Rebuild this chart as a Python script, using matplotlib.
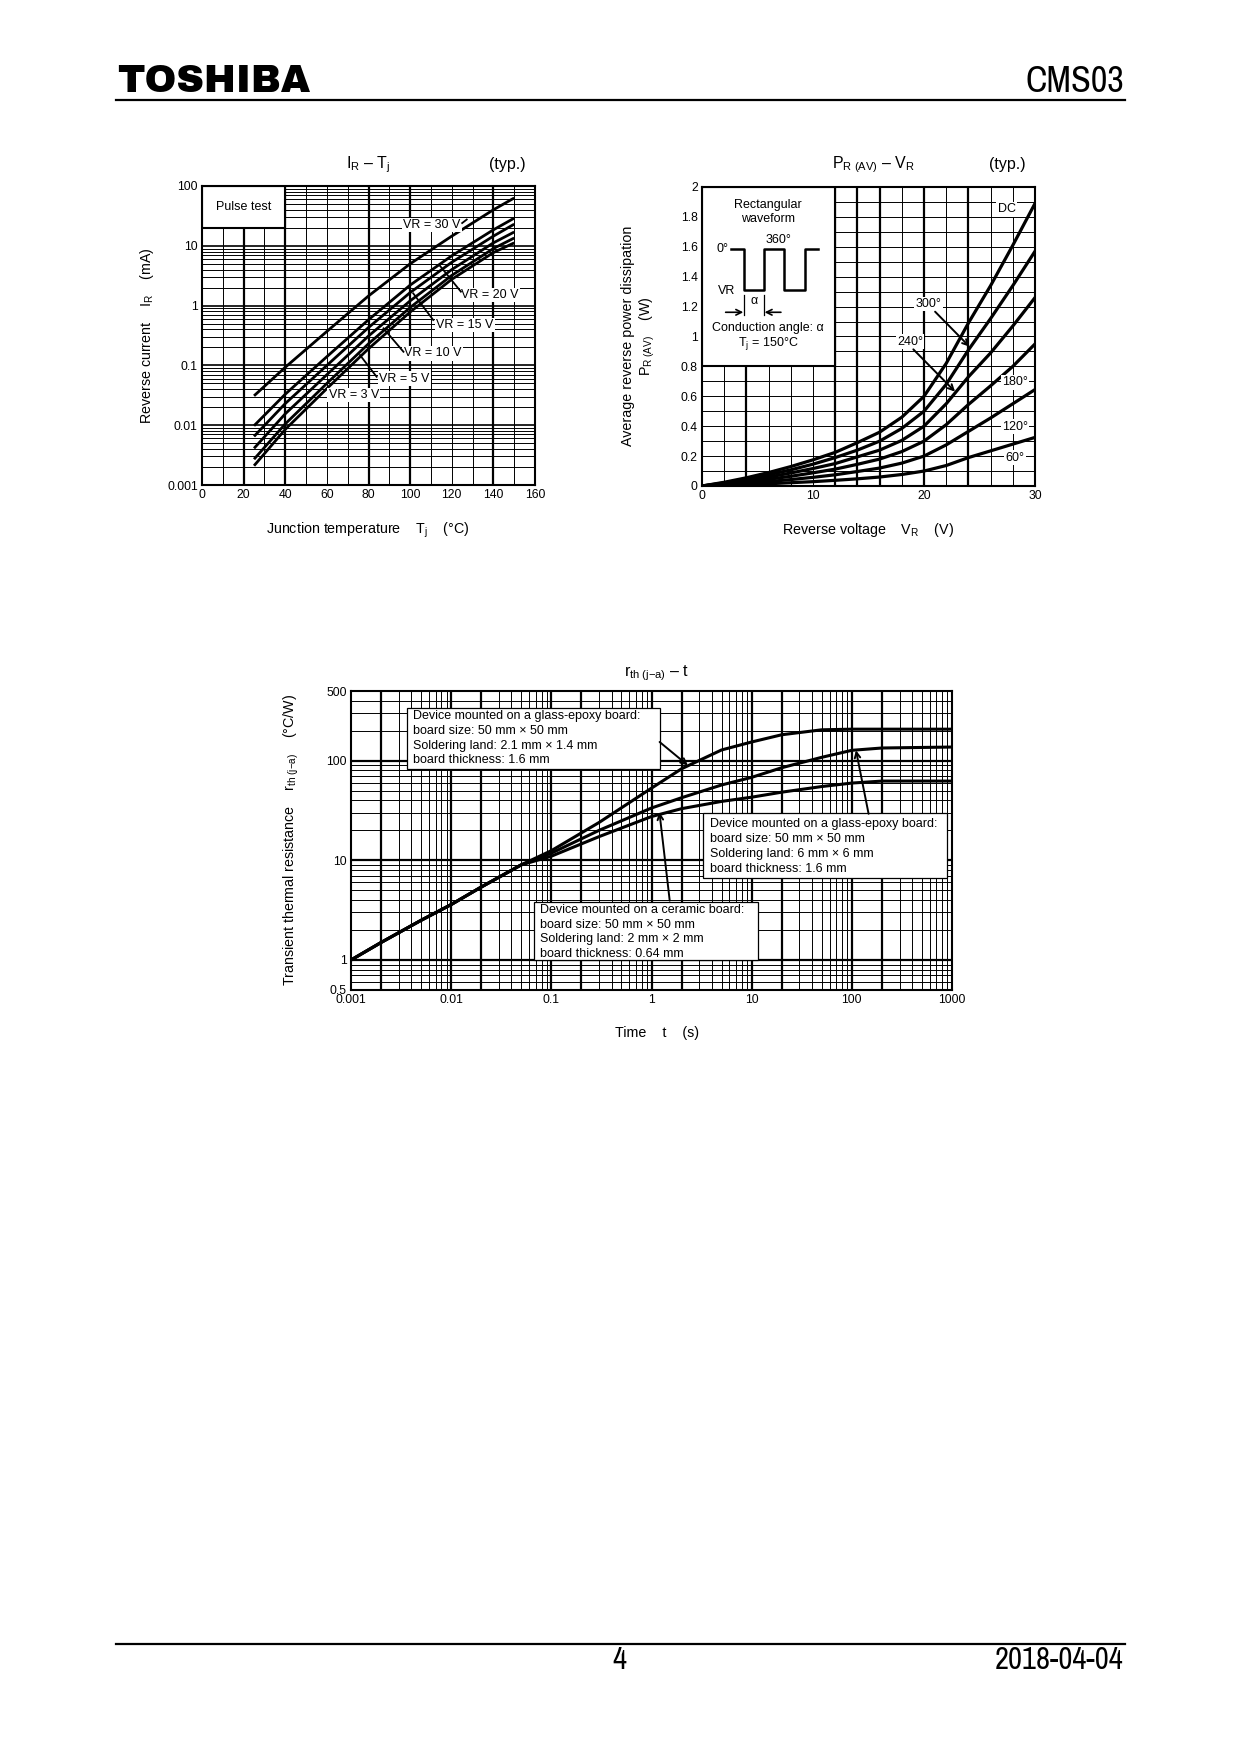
import matplotlib
matplotlib.use('Agg')
import matplotlib.pyplot as plt
from matplotlib.patches import Rectangle
from matplotlib.lines import Line2D
import numpy as np

# ---------------- data ----------------
# IR - Tj (typ.), reverse current in mA
tj = [25, 40, 60, 80, 100, 120, 140, 150]
ir_30v = [0.031, 0.093, 0.37, 1.45, 5.0, 14.5, 40, 63]
ir_20v = [0.0098, 0.033, 0.14, 0.58, 2.2, 6.8, 18.5, 29]
ir_15v = [0.0065, 0.023, 0.10, 0.43, 1.65, 5.3, 14.5, 23]
ir_10v = [0.0041, 0.0155, 0.07, 0.31, 1.2, 4.0, 11.2, 17]
ir_5v = [0.0027, 0.0105, 0.05, 0.23, 0.93, 3.2, 9.0, 13.5]
ir_3v = [0.0021, 0.0085, 0.041, 0.19, 0.78, 2.75, 7.7, 11.2]

# PR(AV) - VR (typ.), W
vr = [0, 2, 4, 6, 8, 10, 12, 14, 16, 18, 20, 22, 24, 26, 28, 30]
p_dc = [0, 0.025, 0.055, 0.09, 0.13, 0.175, 0.225, 0.29, 0.36, 0.46, 0.60, 0.82, 1.09, 1.34, 1.61, 1.89]
p_300 = [0, 0.021, 0.046, 0.075, 0.108, 0.146, 0.19, 0.24, 0.30, 0.385, 0.50, 0.68, 0.91, 1.12, 1.34, 1.57]
p_240 = [0, 0.017, 0.037, 0.06, 0.087, 0.117, 0.15, 0.195, 0.24, 0.305, 0.40, 0.55, 0.73, 0.89, 1.07, 1.26]
p_180 = [0, 0.013, 0.028, 0.045, 0.065, 0.088, 0.113, 0.145, 0.18, 0.23, 0.30, 0.41, 0.545, 0.67, 0.80, 0.95]
p_120 = [0, 0.008, 0.018, 0.03, 0.043, 0.058, 0.075, 0.097, 0.12, 0.153, 0.20, 0.275, 0.365, 0.455, 0.55, 0.645]
p_60 = [0, 0.004, 0.009, 0.015, 0.022, 0.029, 0.038, 0.048, 0.06, 0.077, 0.10, 0.137, 0.19, 0.235, 0.28, 0.325]

# rth(j-a) - t, degC/W
t_s = [0.001, 0.002, 0.005, 0.01, 0.02, 0.05, 0.1, 0.3, 1, 2, 5, 10, 20, 50, 100, 200, 1000]
rth_ge_small = [1.0, 1.5, 2.5, 3.6, 5.4, 9.0, 12.5, 24, 53, 83, 128, 154, 182, 204, 207, 207, 207]
rth_ge_large = [1.0, 1.5, 2.5, 3.6, 5.4, 9.0, 11.8, 20, 33.5, 42.5, 57, 68, 85, 108, 127, 134, 137]
rth_ceramic = [1.0, 1.5, 2.5, 3.6, 5.4, 9.0, 11.0, 17.3, 27.5, 33, 39, 43, 48.3, 55, 59.6, 62.4, 62.4]

# ---------------- page setup ----------------
W, H = 1240, 1754
plt.rcParams['font.family'] = ['Liberation Sans', 'DejaVu Sans']
plt.rcParams['mathtext.fontset'] = 'custom'
plt.rcParams['mathtext.rm'] = 'Liberation Sans'
plt.rcParams['mathtext.it'] = 'Liberation Sans:italic'
plt.rcParams['mathtext.bf'] = 'Liberation Sans:bold'
plt.rcParams['axes.unicode_minus'] = False

fig = plt.figure(figsize=(W / 100, H / 100), dpi=100)

def fx(x):
    return x / W

def fy(y):
    return 1 - y / H

def add_ax(l, t, r, b):
    return fig.add_axes([l / W, 1 - b / H, (r - l) / W, (b - t) / H])

def hline_px(x0, x1, y, lw):
    fig.add_artist(Line2D([fx(x0), fx(x1)], [fy(y), fy(y)], lw=lw, color='k'))

NARROW = ['Liberation Sans Narrow', 'Archivo Narrow', 'Liberation Sans']
LOGO = ['Archivo Black', 'DejaVu Sans']
TICK = 8.7
LAB = 10.3
BOX = 9

# header / footer
fig.text(fx(117), fy(92), 'TOSHIBA', family=LOGO, weight='bold', fontsize=27.5, va='baseline')
fig.text(fx(1124), fy(92), 'CMS03', family=NARROW, fontsize=26, ha='right', va='baseline')
hline_px(116, 1125, 100, 1.6)
hline_px(116, 1125, 1644, 1.6)
fig.text(fx(619), fy(1669), '4', family=NARROW, fontsize=22, ha='center', va='baseline')
fig.text(fx(1124), fy(1669), '2018-04-04', family=NARROW, fontsize=22, ha='right', va='baseline')

def style_axes(ax):
    for s in ax.spines.values():
        s.set_linewidth(1.5)
        s.set_zorder(6)
    ax.tick_params(length=0, pad=3, labelsize=TICK)

THIN = 0.7
THICK = 1.6

# ================= IR - Tj =================
ax1 = add_ax(202, 186, 535, 485)
ax1.set_yscale('log')
ax1.set_xlim(0, 160)
ax1.set_ylim(1e-3, 1e2)
for x in range(10, 160, 10):
    ax1.axvline(x, color='k', lw=THICK if x in (20, 40, 80, 100, 140) else THIN, zorder=1)
for d in range(-3, 2):
    for k in range(1, 10):
        y = k * 10.0 ** d
        if y <= 1e-3:
            continue
        ax1.axhline(y, color='k', lw=1.2 if k == 1 else THIN, zorder=1)
ax1.axhline(100, color='k', lw=1.2, zorder=1)
ax1.set_xticks(range(0, 161, 20))
ax1.set_xticklabels([str(v) for v in range(0, 161, 20)])
ax1.set_yticks([1e-3, 1e-2, 1e-1, 1, 10, 100])
ax1.set_yticklabels(['0.001', '0.01', '0.1', '1', '10', '100'])
ax1.yaxis.set_minor_locator(matplotlib.ticker.NullLocator())
style_axes(ax1)

ax1.add_patch(Rectangle((0, 20), 40, 80, facecolor='white', edgecolor='k', lw=1.5, zorder=3))
ax1.text(20, 45, 'Pulse test', ha='center', va='center', fontsize=BOX, zorder=5)

for series in (ir_30v, ir_20v, ir_15v, ir_10v, ir_5v, ir_3v):
    ax1.plot(tj, series, color='k', lw=2.0, zorder=4, solid_capstyle='butt')

lab_bg = dict(facecolor='white', edgecolor='none', pad=1.0)
ax1.text(110.4, 22.3, 'VR = 30 V', ha='center', va='center', fontsize=BOX, bbox=lab_bg, zorder=5)
ax1.text(138.4, 1.50, 'VR = 20 V', ha='center', va='center', fontsize=BOX, bbox=lab_bg, zorder=5)
ax1.text(126.4, 0.474, 'VR = 15 V', ha='center', va='center', fontsize=BOX, bbox=lab_bg, zorder=5)
ax1.text(110.7, 0.159, 'VR = 10 V', ha='center', va='center', fontsize=BOX, bbox=lab_bg, zorder=5)
ax1.text(97.1, 0.060, 'VR = 5 V', ha='center', va='center', fontsize=BOX, bbox=lab_bg, zorder=5)
ax1.text(72.9, 0.032, 'VR = 3 V', ha='center', va='center', fontsize=BOX, bbox=lab_bg, zorder=5)
for tail, tip in [((124.4, 1.71), (114.4, 4.6)), ((111.1, 0.574), (101.5, 1.6)),
                  ((96.8, 0.169), (87.2, 0.417)), ((83.9, 0.0646), (75.9, 0.149)),
                  ((125.0, 24.0), (127.2, 27.5))]:
    ax1.plot([tail[0], tip[0]], [tail[1], tip[1]], color='k', lw=1.3, zorder=5)

fig.text(fx(368), fy(165), r'I$_\mathregular{R}$ – T$_\mathregular{j}$', fontsize=11.5, ha='center', va='center')
fig.text(fx(507), fy(165), '(typ.)', fontsize=11.5, ha='center', va='center')
fig.text(fx(147), fy(336), r'Reverse current    I$_\mathregular{R}$    (mA)', fontsize=LAB,
         rotation=90, ha='center', va='center')
fig.text(fx(368), fy(530), r'Junction temperature    T$_\mathregular{j}$    (°C)', fontsize=LAB,
         ha='center', va='center')

# ================= PR(AV) - VR =================
ax2 = add_ax(702, 187, 1035, 486)
ax2.set_xlim(0, 30)
ax2.set_ylim(0, 2)
for x in range(2, 30, 2):
    ax2.axvline(x, color='k', lw=THICK if x in (4, 12, 14, 16, 20, 24) else THIN, zorder=1)
for y in np.arange(0.1, 2.0, 0.1):
    ax2.axhline(y, color='k', lw=THIN, zorder=1)
ax2.set_xticks([0, 10, 20, 30])
ax2.set_xticklabels(['0', '10', '20', '30'])
yt = [0, 0.2, 0.4, 0.6, 0.8, 1.0, 1.2, 1.4, 1.6, 1.8, 2.0]
ax2.set_yticks(yt)
ax2.set_yticklabels(['0', '0.2', '0.4', '0.6', '0.8', '1', '1.2', '1.4', '1.6', '1.8', '2'])
style_axes(ax2)

for series in (p_dc, p_300, p_240, p_180, p_120, p_60):
    ax2.plot(vr, series, color='k', lw=2.3, zorder=4)

# inset with the waveform sketch
T2 = ax2.transAxes
ax2.add_patch(Rectangle((0, 0.4), 0.4, 0.6, transform=T2, facecolor='white', edgecolor='k', lw=1.5, zorder=3))
ax2.text(0.199, 0.917, 'Rectangular\nwaveform', transform=T2, ha='center', va='center',
         fontsize=BOX, linespacing=1.2, zorder=5)
wx = [0.087, 0.126, 0.126, 0.186, 0.186, 0.247, 0.247, 0.309, 0.309, 0.349]
wy = [0.7915, 0.7915, 0.6555, 0.6555, 0.7915, 0.7915, 0.6555, 0.6555, 0.7915, 0.7915]
ax2.plot(wx, wy, transform=T2, color='k', lw=1.8, zorder=5)
ax2.text(0.081, 0.7915, '0°', transform=T2, ha='right', va='center', fontsize=BOX, zorder=5)
ax2.text(0.229, 0.822, '360°', transform=T2, ha='center', va='center', fontsize=BOX, zorder=5)
ax2.text(0.074, 0.652, 'VR', transform=T2, ha='center', va='center', fontsize=BOX, zorder=5)
for xx in (0.126, 0.186):
    ax2.plot([xx, xx], [0.639, 0.572], transform=T2, color='k', lw=0.9, zorder=5)
ax2.text(0.156, 0.618, 'α', transform=T2, ha='center', va='center', fontsize=BOX, zorder=5)
ax2.annotate('', xy=(0.124, 0.581), xytext=(0.071, 0.581), xycoords=T2, textcoords=T2,
             arrowprops=dict(arrowstyle='->', lw=1.2, color='k', shrinkA=0, shrinkB=0), zorder=5)
ax2.annotate('', xy=(0.188, 0.581), xytext=(0.237, 0.581), xycoords=T2, textcoords=T2,
             arrowprops=dict(arrowstyle='->', lw=1.2, color='k', shrinkA=0, shrinkB=0), zorder=5)
ax2.text(0.199, 0.5275, 'Conduction angle: α', transform=T2, ha='center', va='center', fontsize=BOX, zorder=5)
ax2.text(0.199, 0.475, r'T$_\mathregular{j}$ = 150°C', transform=T2, ha='center', va='center',
         fontsize=BOX, zorder=5)

ax2.text(27.45, 1.851, 'DC', ha='center', va='center', fontsize=BOX, bbox=lab_bg, zorder=5)
ax2.text(20.4, 1.217, '300°', ha='center', va='center', fontsize=BOX, bbox=lab_bg, zorder=5)
ax2.text(18.74, 0.965, '240°', ha='center', va='center', fontsize=BOX, bbox=lab_bg, zorder=5)
ax2.text(28.2, 0.694, '180°', ha='center', va='center', fontsize=BOX, bbox=lab_bg, zorder=5)
ax2.text(28.2, 0.397, '120°', ha='center', va='center', fontsize=BOX, bbox=lab_bg, zorder=5)
ax2.text(28.2, 0.189, '60°', ha='center', va='center', fontsize=BOX, bbox=lab_bg, zorder=5)
ax2.annotate('', xy=(24.1, 0.932), xytext=(21.0, 1.166),
             arrowprops=dict(arrowstyle='->', lw=1.4, color='k', shrinkA=0, shrinkB=0), zorder=5)
ax2.annotate('', xy=(22.8, 0.631), xytext=(19.04, 0.914),
             arrowprops=dict(arrowstyle='->', lw=1.4, color='k', shrinkA=0, shrinkB=0), zorder=5)

fig.text(fx(873), fy(165), r'P$_\mathregular{R\ (AV)}$ – V$_\mathregular{R}$', fontsize=11.5, ha='center', va='center')
fig.text(fx(1007), fy(165), '(typ.)', fontsize=11.5, ha='center', va='center')
fig.text(fx(628), fy(336), 'Average reverse power dissipation', fontsize=LAB, rotation=90, ha='center', va='center')
fig.text(fx(647), fy(336), r'P$_\mathregular{R\ (AV)}$    (W)', fontsize=LAB, rotation=90, ha='center', va='center')
fig.text(fx(868), fy(530), r'Reverse voltage    V$_\mathregular{R}$    (V)', fontsize=LAB, ha='center', va='center')

# ================= rth(j-a) - t =================
ax3 = add_ax(351, 691, 952, 990)
ax3.set_xscale('log')
ax3.set_yscale('log')
ax3.set_xlim(1e-3, 1e3)
ax3.set_ylim(0.5, 500)
for d in range(-3, 3):
    for k in range(1, 10):
        x = k * 10.0 ** d
        if x <= 1e-3:
            continue
        ax3.axvline(x, color='k', lw=THICK if k in (1, 2) else THIN, zorder=1)
for d in range(-1, 3):
    for k in range(1, 10):
        y = k * 10.0 ** d
        if y <= 0.5 or y >= 500:
            continue
        ax3.axhline(y, color='k', lw=THICK if k == 1 else THIN, zorder=1)
ax3.set_xticks([1e-3, 1e-2, 1e-1, 1, 10, 100, 1000])
ax3.set_xticklabels(['0.001', '0.01', '0.1', '1', '10', '100', '1000'])
ax3.set_yticks([0.5, 1, 10, 100, 500])
ax3.set_yticklabels(['0.5', '1', '10', '100', '500'])
ax3.xaxis.set_minor_locator(matplotlib.ticker.NullLocator())
ax3.yaxis.set_minor_locator(matplotlib.ticker.NullLocator())
style_axes(ax3)

for series in (rth_ge_small, rth_ge_large, rth_ceramic):
    ax3.plot(t_s, series, color='k', lw=2.2, zorder=4)

T3 = ax3.transAxes
boxes = [
    ((0.094, 0.738, 0.514, 0.942), (0.1037, 0.842),
     'Device mounted on a glass-epoxy board:\nboard size: 50 mm × 50 mm\n'
     'Soldering land: 2.1 mm × 1.4 mm\nboard thickness: 1.6 mm'),
    ((0.585, 0.374, 0.991, 0.591), (0.597, 0.480),
     'Device mounted on a glass-epoxy board:\nboard size: 50 mm × 50 mm\n'
     'Soldering land: 6 mm × 6 mm\nboard thickness: 1.6 mm'),
    ((0.305, 0.100, 0.678, 0.295), (0.3145, 0.194),
     'Device mounted on a ceramic board:\nboard size: 50 mm × 50 mm\n'
     'Soldering land: 2 mm × 2 mm\nboard thickness: 0.64 mm'),
]
for (x0, y0, x1, y1), (tx, ty), txt in boxes:
    ax3.add_patch(Rectangle((x0, y0), x1 - x0, y1 - y0, transform=T3, facecolor='white',
                            edgecolor='k', lw=0.9, zorder=3))
    ax3.text(tx, ty, txt, transform=T3, ha='left', va='center', fontsize=BOX, linespacing=1.3, zorder=5)

for tail, tip in [((1.205, 154), (2.31, 89.7)), ((147, 29.3), (110, 127)), ((1.52, 3.94), (1.2, 30.4))]:
    ax3.annotate('', xy=tip, xytext=tail,
                 arrowprops=dict(arrowstyle='->', lw=1.4, color='k', shrinkA=0, shrinkB=0), zorder=5)

fig.text(fx(657), fy(673), r'r$_\mathregular{th\ (j{-}a)}$ – t', fontsize=11.5, ha='center', va='center')
fig.text(fx(291), fy(840), r'Transient thermal resistance    r$_\mathregular{th\ (j{-}a)}$    (°C/W)',
         fontsize=LAB, rotation=90, ha='center', va='center')
fig.text(fx(657), fy(1033), 'Time    t    (s)', fontsize=LAB, ha='center', va='center')

fig.savefig('out.png', dpi=100)
